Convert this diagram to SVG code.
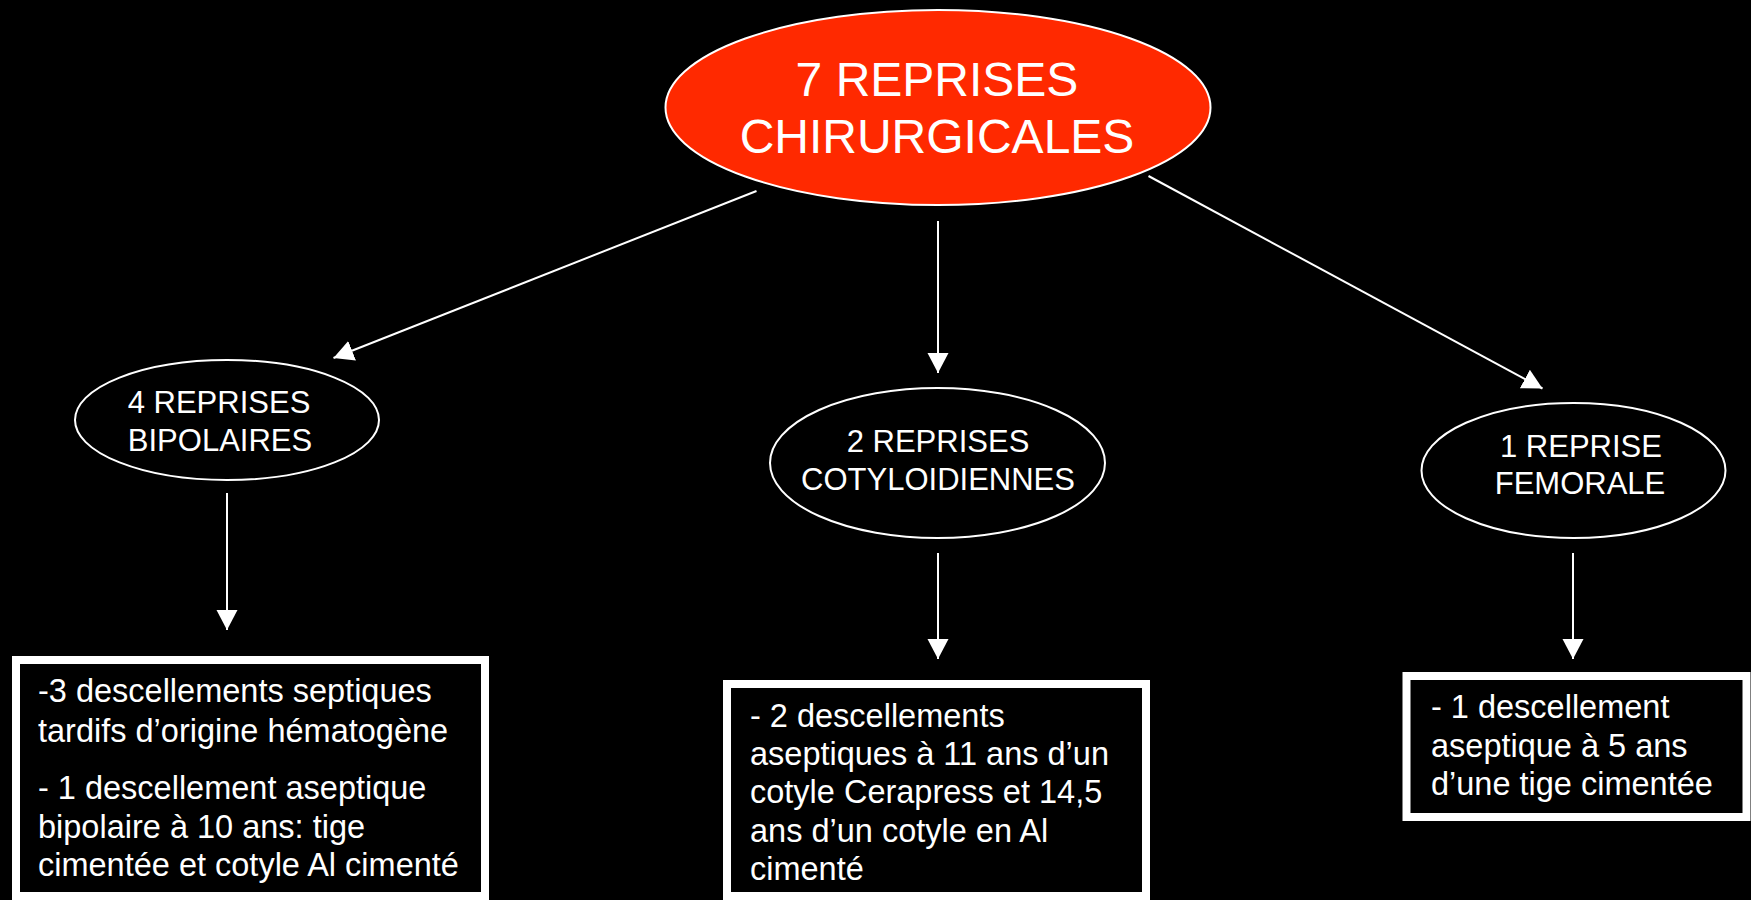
<svg xmlns="http://www.w3.org/2000/svg" width="1751" height="900" viewBox="0 0 1751 900">
<defs>
<style>
.t{font-family:"Liberation Sans",Arial,Helvetica,sans-serif;fill:#fff}
.bt{font-size:32.5px}
.et{font-size:31px}
.e{fill:#000;stroke:#fff;stroke-width:2}
.b{fill:#000;stroke:#fff;stroke-width:8}
.c{stroke:#fff;stroke-width:2;fill:none;marker-end:url(#ah)}
</style>
<marker id="ah" markerUnits="userSpaceOnUse" markerWidth="22" markerHeight="22" refX="20" refY="10.5" orient="auto" viewBox="0 0 22 22">
<path d="M0,0 L20,10.5 L0,21 Z" fill="#fff"/>
</marker>
</defs>
<rect x="0" y="0" width="1751" height="900" fill="#000"/>
<g id="root">
<ellipse cx="938" cy="107.5" rx="272.5" ry="97.5" fill="#FF2900" stroke="#fff" stroke-width="2"/>
<text class="t" font-size="48" text-anchor="middle"><tspan x="937" y="96">7 REPRISES</tspan><tspan x="937" y="153">CHIRURGICALES</tspan></text>
</g>
<g id="bipolaires">
<ellipse class="e" cx="227" cy="420" rx="152" ry="60"/>
<text class="t et" text-anchor="middle"><tspan x="219" y="413">4 REPRISES</tspan><tspan x="220" y="451">BIPOLAIRES</tspan></text>
</g>
<g id="cotyloidiennes">
<ellipse class="e" cx="937.5" cy="463" rx="167.5" ry="75"/>
<text class="t et" text-anchor="middle"><tspan x="938" y="452">2 REPRISES</tspan><tspan x="938" y="490">COTYLOIDIENNES</tspan></text>
</g>
<g id="femorale">
<ellipse class="e" cx="1573.5" cy="470.5" rx="152" ry="67.5"/>
<text class="t et" text-anchor="middle"><tspan x="1581" y="457">1 REPRISE</tspan><tspan x="1580" y="494">FEMORALE</tspan></text>
</g>
<g id="box-bipolaires">
<rect class="b" x="16" y="660" width="469" height="236"/>
<text class="t bt"><tspan x="38" y="702">-3 descellements septiques</tspan><tspan x="38" y="742">tardifs d’origine hématogène</tspan><tspan x="38" y="799">- 1 descellement aseptique</tspan><tspan x="38" y="838">bipolaire à 10 ans: tige</tspan><tspan x="38" y="876">cimentée et cotyle Al cimenté</tspan></text>
</g>
<g id="box-cotyloidiennes">
<rect class="b" x="727" y="684" width="419" height="212"/>
<text class="t bt"><tspan x="750" y="727">- 2 descellements</tspan><tspan x="750" y="765">aseptiques à 11 ans d’un</tspan><tspan x="750" y="803">cotyle Cerapress et 14,5</tspan><tspan x="750" y="842">ans d’un cotyle en Al</tspan><tspan x="750" y="880">cimenté</tspan></text>
</g>
<g id="box-femorale">
<rect class="b" x="1406.5" y="676" width="340" height="141"/>
<text class="t bt"><tspan x="1431" y="718">- 1 descellement</tspan><tspan x="1431" y="757">aseptique à 5 ans</tspan><tspan x="1431" y="795">d’une tige cimentée</tspan></text>
</g>
<g id="connectors">
<line class="c" x1="756.5" y1="191" x2="333.5" y2="358"/>
<line class="c" x1="938" y1="221" x2="938" y2="373"/>
<line class="c" x1="1148.5" y1="176" x2="1542.5" y2="388.5"/>
<line class="c" x1="227" y1="493" x2="227" y2="630"/>
<line class="c" x1="938" y1="553" x2="938" y2="659"/>
<line class="c" x1="1573" y1="553" x2="1573" y2="659"/>
</g>
</svg>
